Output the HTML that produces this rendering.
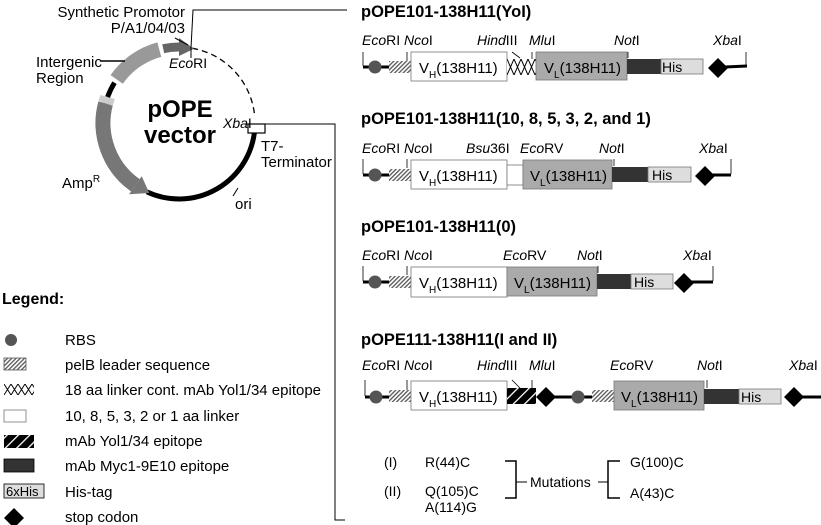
<!DOCTYPE html>
<html><head><meta charset="utf-8"><style>
html,body{margin:0;padding:0;background:#fff;}
svg{display:block;font-family:"Liberation Sans",sans-serif;}
.t{font-size:16.5px;font-weight:bold;}
.l{font-size:14px;}
.p{font-size:15px;}
.g{font-size:15px;}
.b{font-size:15px;}
.s{font-size:10px;}
</style></head><body>
<svg width="821" height="525" viewBox="0 0 821 525" xmlns="http://www.w3.org/2000/svg">
<defs>
<pattern id="h" width="3" height="3" patternUnits="userSpaceOnUse" patternTransform="rotate(45)"><rect width="3" height="3" fill="#fff"/><rect width="1.3" height="3" fill="#555"/></pattern>
<pattern id="x" x="507" y="59" width="7" height="16" patternUnits="userSpaceOnUse"><rect width="7" height="16" fill="#fff"/><path d="M0,0 L7,16 M7,0 L0,16" stroke="#000" stroke-width="1"/></pattern>
<pattern id="x2" x="4" y="384" width="7" height="11" patternUnits="userSpaceOnUse"><rect width="7" height="11" fill="#fff"/><path d="M0,0 L7,11 M7,0 L0,11" stroke="#000" stroke-width="1"/></pattern>
<pattern id="e" width="8" height="8" patternUnits="userSpaceOnUse" patternTransform="rotate(-45)"><rect width="8" height="8" fill="#000"/><rect width="8" height="1.3" fill="#fff"/></pattern>
</defs>

<!-- plasmid -->
<path d="M192.2,48.2 A76,76 0 0 1 254.7,116.4" fill="none" stroke="#000" stroke-width="1.3" stroke-dasharray="6,4"/>
<path d="M254.7,129.6 A76,76 0 0 1 146.9,191.9" fill="none" stroke="#000" stroke-width="5"/>
<path d="M105.6,103.3 A76,76 0 0 0 135.4,185.3" fill="none" stroke="#777" stroke-width="15"/>
<polygon points="141.7,176.2 129.1,194.3 149.3,193" fill="#777"/>
<path d="M107.6,97 A76,76 0 0 1 105.6,103.3" fill="none" stroke="#ccc" stroke-width="15"/>
<path d="M114.5,82.7 A76,76 0 0 0 107.6,97" fill="none" stroke="#000" stroke-width="5"/>
<path d="M116.7,79.4 A76,76 0 0 1 159.3,49.6" fill="none" stroke="#999" stroke-width="15"/>
<path d="M163.2,48.7 A76,76 0 0 1 179,47" fill="none" stroke="#666" stroke-width="9"/>
<polygon points="179,38 179,56 194,48.7" fill="#666"/>
<rect x="248" y="124" width="17" height="9" fill="#fff" stroke="#000" stroke-width="1.2"/>
<polyline points="191,48 193,10 347,10" fill="none" stroke="#000" stroke-width="1"/>
<line x1="175" y1="38" x2="188" y2="45" stroke="#000"/>
<line x1="191" y1="48" x2="191" y2="58" stroke="#000"/>
<polyline points="265,124 335,124 335,520 345,520" fill="none" stroke="#000" stroke-width="1"/>
<line x1="244" y1="124" x2="262" y2="124" stroke="#000"/>
<line x1="100" y1="61" x2="125" y2="61" stroke="#000" stroke-width="1.5"/>
<line x1="238" y1="188" x2="233" y2="196" stroke="#000"/>
<text x="185" y="17" class="p" text-anchor="end">Synthetic Promotor</text>
<text x="185" y="33" class="p" text-anchor="end">P/A1/04/03</text>
<text x="169" y="68" class="l"><tspan font-style="italic">Eco</tspan>RI</text>
<text x="36" y="67" class="p">Intergenic</text>
<text x="36" y="83" class="p">Region</text>
<text x="180" y="117" font-size="24" font-weight="bold" text-anchor="middle">pOPE</text>
<text x="180" y="143" font-size="24" font-weight="bold" text-anchor="middle">vector</text>
<text x="223" y="128" class="l"><tspan font-style="italic">Xba</tspan>I</text>
<text x="261" y="151" class="p">T7-</text>
<text x="261" y="167" class="p">Terminator</text>
<text x="62" y="188" class="p">Amp<tspan class="s" dy="-6">R</tspan></text>
<text x="235" y="209" class="p">ori</text>

<!-- Legend -->
<text x="2" y="304" font-size="16" font-weight="bold">Legend:</text>
<circle cx="11" cy="340" r="6" fill="#555"/>
<rect x="4" y="358" width="22" height="12" fill="url(#h)" stroke="#555" stroke-width="0.8"/>
<rect x="4" y="384" width="30" height="11" fill="url(#x2)"/>
<rect x="4" y="410" width="22" height="12" fill="#fff" stroke="#777" stroke-width="0.8"/>
<rect x="4" y="435" width="30" height="13" fill="url(#e)"/>
<rect x="4" y="459" width="30" height="13" fill="#333" stroke="#000" stroke-width="0.8"/>
<rect x="4" y="484" width="40" height="14" fill="#ddd" stroke="#000" stroke-width="0.8"/>
<text x="6" y="496" font-size="13">6xHis</text>
<polygon points="14,508 24,518 14,528 4,518" fill="#000"/>
<g class="g">
<text x="65" y="345">RBS</text>
<text x="65" y="370">pelB leader sequence</text>
<text x="65" y="395">18 aa linker cont. mAb Yol1/34 epitope</text>
<text x="65" y="421">10, 8, 5, 3, 2 or 1 aa linker</text>
<text x="65" y="446">mAb Yol1/34 epitope</text>
<text x="65" y="471">mAb Myc1-9E10 epitope</text>
<text x="65" y="497">His-tag</text>
<text x="65" y="522">stop codon</text>
</g>

<!-- Construct 1 -->
<text x="361" y="17" class="t">pOPE101-138H11(YoI)</text>
<g class="l">
<text x="362" y="45"><tspan font-style="italic">Eco</tspan>RI <tspan font-style="italic">Nco</tspan>I</text>
<text x="477" y="45"><tspan font-style="italic">Hind</tspan>III</text>
<text x="529" y="45"><tspan font-style="italic">Mlu</tspan>I</text>
<text x="614" y="45"><tspan font-style="italic">Not</tspan>I</text>
<text x="713" y="45"><tspan font-style="italic">Xba</tspan>I</text>
</g>
<g stroke="#000" stroke-width="0.8"><line x1="363" y1="52" x2="363" y2="66"/><line x1="407" y1="52" x2="407" y2="62"/><line x1="532" y1="52" x2="532" y2="62"/><line x1="628" y1="52" x2="628" y2="58"/><line x1="746" y1="52" x2="746" y2="66"/><line x1="512" y1="52" x2="520" y2="58"/></g>
<line x1="363" y1="67" x2="390" y2="67" stroke="#000" stroke-width="3"/>
<circle cx="375" cy="67" r="6.5" fill="#555"/>
<rect x="389" y="61" width="22" height="12" fill="url(#h)"/>
<rect x="411" y="52" width="96" height="29" fill="#fff" stroke="#777" stroke-width="0.8"/>
<text x="419" y="73" class="b">V<tspan class="s" dy="5">H</tspan><tspan dy="-5">(138H11)</tspan></text>
<rect x="507" y="59" width="29" height="16" fill="url(#x)"/>
<rect x="536" y="52" width="91" height="28" fill="#aaa" stroke="#777" stroke-width="0.8"/>
<text x="544" y="73" class="b">V<tspan class="s" dy="5">L</tspan><tspan dy="-5">(138H11)</tspan></text>
<rect x="627" y="59" width="34" height="15" fill="#333"/>
<rect x="661" y="59" width="42" height="15" fill="#ddd" stroke="#777" stroke-width="0.8"/>
<text x="662" y="72" font-size="14">His</text>
<polygon points="718,58 728,68 718,78 708,68" fill="#000"/>
<line x1="725" y1="67" x2="747" y2="66" stroke="#000" stroke-width="3"/>

<!-- Construct 2 -->
<text x="361" y="124" class="t">pOPE101-138H11(10, 8, 5, 3, 2, and 1)</text>
<g class="l">
<text x="362" y="153"><tspan font-style="italic">Eco</tspan>RI <tspan font-style="italic">Nco</tspan>I</text>
<text x="466" y="153"><tspan font-style="italic">Bsu</tspan>36I</text>
<text x="520" y="153"><tspan font-style="italic">Eco</tspan>RV</text>
<text x="599" y="153"><tspan font-style="italic">Not</tspan>I</text>
<text x="699" y="153"><tspan font-style="italic">Xba</tspan>I</text>
</g>
<g stroke="#000" stroke-width="0.8"><line x1="363" y1="159" x2="363" y2="174"/><line x1="407" y1="159" x2="407" y2="168"/><line x1="614" y1="159" x2="614" y2="166"/><line x1="731" y1="159" x2="731" y2="174"/></g>
<line x1="363" y1="175" x2="390" y2="175" stroke="#000" stroke-width="3"/>
<circle cx="375" cy="175" r="6.5" fill="#555"/>
<rect x="389" y="169" width="22" height="12" fill="url(#h)"/>
<rect x="411" y="160" width="96" height="29" fill="#fff" stroke="#777" stroke-width="0.8"/>
<text x="419" y="181" class="b">V<tspan class="s" dy="5">H</tspan><tspan dy="-5">(138H11)</tspan></text>
<rect x="507" y="165" width="16" height="20" fill="#fff" stroke="#777" stroke-width="0.8"/>
<rect x="523" y="160" width="89" height="29" fill="#aaa" stroke="#777" stroke-width="0.8"/>
<text x="530" y="181" class="b">V<tspan class="s" dy="5">L</tspan><tspan dy="-5">(138H11)</tspan></text>
<rect x="612" y="167" width="36" height="15" fill="#333"/>
<rect x="648" y="167" width="43" height="15" fill="#ddd" stroke="#777" stroke-width="0.8"/>
<text x="652" y="180" font-size="14">His</text>
<polygon points="705,166 715,176 705,186 695,176" fill="#000"/>
<line x1="712" y1="175" x2="731" y2="175" stroke="#000" stroke-width="3"/>

<!-- Construct 3 -->
<text x="361" y="232" class="t">pOPE101-138H11(0)</text>
<g class="l">
<text x="362" y="260"><tspan font-style="italic">Eco</tspan>RI <tspan font-style="italic">Nco</tspan>I</text>
<text x="503" y="260"><tspan font-style="italic">Eco</tspan>RV</text>
<text x="577" y="260"><tspan font-style="italic">Not</tspan>I</text>
<text x="683" y="260"><tspan font-style="italic">Xba</tspan>I</text>
</g>
<g stroke="#000" stroke-width="0.8"><line x1="363" y1="266" x2="363" y2="281"/><line x1="407" y1="266" x2="407" y2="275"/><line x1="598" y1="266" x2="598" y2="273"/><line x1="713" y1="266" x2="713" y2="281"/></g>
<line x1="363" y1="282" x2="390" y2="282" stroke="#000" stroke-width="3"/>
<circle cx="375" cy="282" r="6.5" fill="#555"/>
<rect x="389" y="276" width="22" height="12" fill="url(#h)"/>
<rect x="411" y="267" width="96" height="30" fill="#fff" stroke="#777" stroke-width="0.8"/>
<text x="419" y="288" class="b">V<tspan class="s" dy="5">H</tspan><tspan dy="-5">(138H11)</tspan></text>
<rect x="507" y="267" width="90" height="29" fill="#aaa" stroke="#777" stroke-width="0.8"/>
<text x="514" y="288" class="b">V<tspan class="s" dy="5">L</tspan><tspan dy="-5">(138H11)</tspan></text>
<rect x="597" y="274" width="34" height="15" fill="#333"/>
<rect x="631" y="274" width="42" height="15" fill="#ddd" stroke="#777" stroke-width="0.8"/>
<text x="634" y="287" font-size="14">His</text>
<polygon points="684,273 694,283 684,293 674,283" fill="#000"/>
<line x1="691" y1="282" x2="713" y2="282" stroke="#000" stroke-width="3"/>

<!-- Construct 4 -->
<text x="361" y="345" class="t">pOPE111-138H11(I and II)</text>
<g class="l">
<text x="362" y="370"><tspan font-style="italic">Eco</tspan>RI <tspan font-style="italic">Nco</tspan>I</text>
<text x="477" y="370"><tspan font-style="italic">Hind</tspan>III</text>
<text x="529" y="370"><tspan font-style="italic">Mlu</tspan>I</text>
<text x="610" y="370"><tspan font-style="italic">Eco</tspan>RV</text>
<text x="697" y="370"><tspan font-style="italic">Not</tspan>I</text>
<text x="789" y="370"><tspan font-style="italic">Xba</tspan>I</text>
</g>
<g stroke="#000" stroke-width="0.8"><line x1="365" y1="380" x2="365" y2="396"/><line x1="407" y1="380" x2="407" y2="390"/><line x1="532" y1="380" x2="532" y2="390"/><line x1="707" y1="380" x2="707" y2="388"/><line x1="512" y1="380" x2="520" y2="388"/></g>
<line x1="365" y1="397" x2="390" y2="397" stroke="#000" stroke-width="3"/>
<circle cx="376" cy="397" r="6.5" fill="#555"/>
<rect x="389" y="390" width="22" height="12" fill="url(#h)"/>
<rect x="411" y="381" width="96" height="29" fill="#fff" stroke="#777" stroke-width="0.8"/>
<text x="419" y="402" class="b">V<tspan class="s" dy="5">H</tspan><tspan dy="-5">(138H11)</tspan></text>
<rect x="507" y="388" width="29" height="16" fill="url(#e)"/>
<polygon points="546,387 556,397 546,407 536,397" fill="#000"/>
<line x1="553" y1="397" x2="594" y2="397" stroke="#000" stroke-width="3"/>
<circle cx="578" cy="397" r="6.5" fill="#555"/>
<rect x="592" y="390" width="22" height="12" fill="url(#h)"/>
<rect x="614" y="381" width="90" height="29" fill="#aaa" stroke="#777" stroke-width="0.8"/>
<text x="621" y="402" class="b">V<tspan class="s" dy="5">L</tspan><tspan dy="-5">(138H11)</tspan></text>
<rect x="704" y="389" width="35" height="15" fill="#333"/>
<rect x="739" y="389" width="42" height="15" fill="#ddd" stroke="#777" stroke-width="0.8"/>
<text x="741" y="402" font-size="14">His</text>
<polygon points="794,387 804,397 794,407 784,397" fill="#000"/>
<line x1="801" y1="397" x2="821" y2="397" stroke="#000" stroke-width="3"/>

<!-- Mutations -->
<g font-size="14">
<text x="384" y="467">(I)</text>
<text x="425" y="467">R(44)C</text>
<text x="384" y="496">(II)</text>
<text x="425" y="496">Q(105)C</text>
<text x="425" y="512">A(114)G</text>
<text x="530" y="487">Mutations</text>
<text x="630" y="467">G(100)C</text>
<text x="630" y="498">A(43)C</text>
</g>
<polyline points="505,461 516,461 516,498 505,498" fill="none" stroke="#000" stroke-width="1.5"/>
<line x1="516" y1="482" x2="527" y2="482" stroke="#000"/>
<polyline points="620,461 608,461 608,498 620,498" fill="none" stroke="#000" stroke-width="1.5"/>
<line x1="598" y1="482" x2="608" y2="482" stroke="#000"/>
</svg>
</body></html>
